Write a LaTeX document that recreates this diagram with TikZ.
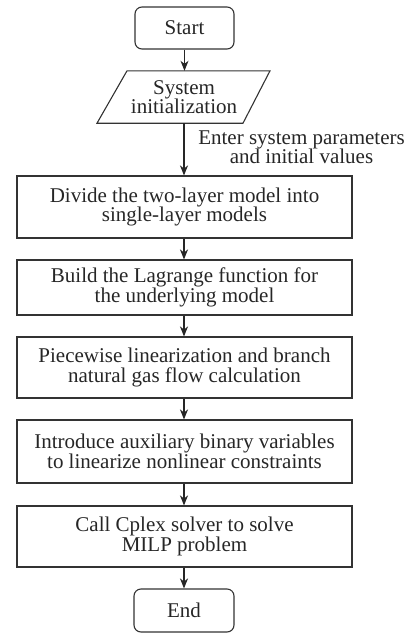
\documentclass[tikz,border=0pt]{standalone}
\usepackage{fontspec}
\setmainfont{Liberation Serif}
\usetikzlibrary{arrows.meta}
\begin{document}
\begin{tikzpicture}[x=1pt,y=-1pt,
  every node/.style={font=\fontsize{21}{19.5}\selectfont, text=black!85, align=center, inner sep=0pt},
  proc/.style={draw=black!80, line width=1.1pt, minimum width=335pt},
  term/.style={draw=black!80, line width=1.1pt, rounded corners=7pt},
  flow/.style={draw=black!85, line width=1.1pt, -{Stealth[length=10pt,width=8pt,inset=3pt]}}]
\useasboundingbox (0,0) rectangle (412,633);
\node[term, minimum width=99pt, minimum height=42pt] (start) at (184.5,28) {Start};
\node[minimum height=52pt, minimum width=120pt] (init) at (184,97) {System\\initialization};
\draw[draw=black!80, line width=1.1pt] ([xshift=-57pt]init.north) -- ([xshift=86pt]init.north)
  -- ([xshift=59pt]init.south) -- ([xshift=-87pt]init.south) -- cycle;
\node[proc, minimum height=62pt] (b1) at (184.5,207) {Divide the two-layer model into\\single-layer models};
\node[proc, minimum height=55pt] (b2) at (184.5,287.5) {Build the Lagrange function for\\the underlying model};
\node[proc, minimum height=61pt] (b3) at (184.5,367.5) {Piecewise linearization and branch\\natural gas flow calculation};
\node[proc, minimum height=63pt] (b4) at (184.5,451.5) {Introduce auxiliary binary variables\\to linearize nonlinear constraints};
\node[proc, minimum height=61pt] (b5) at (184.5,536.5) {Call Cplex solver to solve\\MILP problem};
\node[term, minimum width=100pt, minimum height=43pt] (end) at (184,610.5) {End};
\node (lab) at (301.5,147) {Enter system parameters\\and initial values};
\draw[flow] (start.south) -- (init.north -| start.south);
\draw[flow] (init.south) -- (b1.north -| init.south);
\draw[flow] (b1.south -| init.south) -- (b2.north -| init.south);
\draw[flow] (b2.south -| init.south) -- (b3.north -| init.south);
\draw[flow] (b3.south -| init.south) -- (b4.north -| init.south);
\draw[flow] (b4.south -| init.south) -- (b5.north -| init.south);
\draw[flow] (b5.south -| init.south) -- (end.north);
\end{tikzpicture}
\end{document}
